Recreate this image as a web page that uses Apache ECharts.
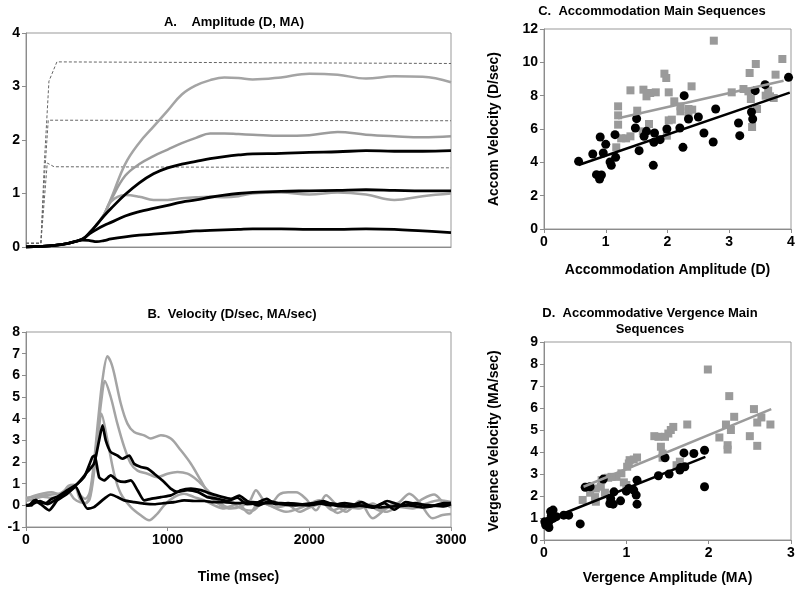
<!DOCTYPE html>
<html><head><meta charset="utf-8">
<script src="https://cdn.jsdelivr.net/npm/echarts/dist/echarts.min.js"></script>
<style>html,body{margin:0;padding:0;background:#fff}#c{width:800px;height:592px}</style>
</head><body><div id="c"></div>
<script>
// ---------- Panel A: amplitude (D, MA) ----------
const timeA = [0,100,200,300,400,450,500,550,600,700,800,900,1000,1100,1200,1300,1400,1500,1600,1800,2000,2200,2400,2600,2800,3000];
const accA1 = [0,0.01,0.03,0.07,0.15,0.27,0.42,0.6,0.9,1.55,1.95,2.25,2.55,2.85,3.02,3.12,3.17,3.16,3.13,3.17,3.24,3.22,3.15,3.19,3.18,3.08];
const accA2 = [0,0.01,0.03,0.07,0.15,0.27,0.42,0.6,0.88,1.33,1.55,1.7,1.82,1.94,2.04,2.12,2.12,2.11,2.1,2.08,2.09,2.15,2.1,2.07,2.05,2.07];
const accA3 = [0,0.01,0.03,0.07,0.15,0.27,0.42,0.6,0.85,0.97,0.94,0.88,0.88,0.91,0.93,0.94,0.93,0.95,1.0,1.02,0.98,1.02,0.98,0.88,0.95,1.0];
const vergA1 = [0,0.01,0.03,0.07,0.15,0.27,0.42,0.58,0.72,0.98,1.2,1.37,1.48,1.55,1.6,1.65,1.69,1.72,1.74,1.75,1.77,1.78,1.8,1.79,1.79,1.8];
const vergA2 = [0,0.01,0.03,0.07,0.15,0.25,0.33,0.4,0.46,0.58,0.66,0.72,0.78,0.84,0.88,0.93,0.97,1.0,1.02,1.04,1.05,1.06,1.07,1.06,1.05,1.05];
const vergA3 = [0,0.01,0.03,0.07,0.13,0.12,0.1,0.12,0.15,0.19,0.22,0.24,0.26,0.28,0.3,0.31,0.32,0.33,0.34,0.34,0.33,0.33,0.34,0.33,0.3,0.27];
const stimA1 = [[0,0.07],[105,0.07],[130,1.6],[162,3.1],[218,3.46],[3000,3.43]];
const stimA2 = [[0,0.07],[105,0.07],[135,1.5],[157,2.37],[3000,2.36]];
const stimA3 = [[0,0.07],[105,0.07],[150,1.57],[198,1.5],[3000,1.48]];

// ---------- Panel B: velocity ----------
const velAcc1 = [[0,0.35],[60,0.38],[120,0.45],[180,0.5],[240,0.55],[300,0.8],[340,0.9],[380,0.5],[420,0.3],[450,0.6],[480,2.0],[510,4.0],[540,5.8],[575,6.88],[600,6.6],[622,6.1],[669,4.7],[716,3.77],[763,3.38],[834,3.23],[881,3.08],[952,3.23],[1022,3.08],[1093,2.54],[1164,1.92],[1234,1.15],[1305,0.38],[1376,0.0],[1446,-0.15],[1520,-0.05],[1580,0.2],[1623,0.7],[1670,0.3],[1717,0.0],[1788,0.5],[1850,0.6],[1906,0.6],[1976,0.3],[2047,-0.23],[2118,0.46],[2188,0.05],[2259,-0.3],[2353,0.2],[2447,-0.6],[2541,-0.15],[2636,0.15],[2706,0.54],[2777,0.15],[2871,-0.6],[2940,-0.45],[3000,-0.4]];
const velAcc2 = [[0,0.3],[60,0.45],[120,0.55],[180,0.6],[240,0.5],[300,0.9],[340,0.95],[380,0.3],[420,0.1],[450,0.4],[480,1.8],[510,3.6],[535,5.0],[556,5.74],[598,5.0],[645,3.77],[693,2.7],[740,1.92],[787,1.6],[857,1.46],[928,1.3],[999,1.46],[1069,1.54],[1140,1.46],[1211,1.15],[1281,0.7],[1352,0.23],[1423,-0.08],[1493,0.08],[1576,-0.38],[1647,0.15],[1717,0.0],[1835,-0.3],[1953,-0.08],[2071,0.23],[2165,-0.23],[2235,-0.08],[2353,-0.15],[2447,0.08],[2541,-0.3],[2636,-0.08],[2730,-0.15],[2824,0.08],[2918,0.23],[3000,0.15]];
const velAcc3 = [[0,0.2],[60,0.3],[120,0.4],[180,0.35],[240,0.4],[300,0.6],[340,0.3],[380,0.15],[420,0.1],[450,0.3],[480,1.5],[510,3.2],[532,4.23],[575,3.0],[622,1.46],[669,0.54],[740,-0.08],[810,-0.46],[869,-0.69],[928,-0.38],[975,0.0],[1046,0.38],[1116,0.54],[1187,0.38],[1258,0.23],[1328,0.0],[1399,-0.15],[1470,0.0],[1540,-0.2],[1600,-0.25],[1680,0.2],[1760,-0.1],[1850,0.0],[1930,-0.3],[2000,-0.1],[2100,0.1],[2200,-0.35],[2300,0.0],[2400,0.05],[2500,-0.25],[2600,0.1],[2700,-0.1],[2800,0.3],[2880,0.5],[2950,0.1],[3000,-0.1]];
const velVerg1 = [[0,0],[40,0],[70,0.25],[100,0.1],[140,0.1],[180,0.3],[221,0.4],[292,0.7],[363,1.0],[433,1.54],[480,1.92],[516,3.0],[540,3.69],[563,3.0],[598,2.46],[645,2.3],[680,2.15],[728,2.3],[763,1.92],[810,1.77],[857,1.7],[905,1.46],[975,1.08],[1022,0.77],[1069,0.62],[1140,0.7],[1211,0.62],[1281,0.38],[1352,0.3],[1423,0.2],[1493,0.35],[1560,0.05],[1620,0.1],[1700,0.3],[1760,0.05],[1850,0.1],[1950,0.05],[2050,0.1],[2150,0.0],[2250,0.1],[2350,0.0],[2450,-0.1],[2550,0.2],[2650,0.0],[2750,0.1],[2850,-0.05],[2950,0.1],[3000,0.1]];
const velVerg2 = [[0,0],[60,0.1],[100,0.2],[150,0.05],[221,0.3],[292,0.6],[339,0.85],[410,1.3],[469,2.23],[485,2.3],[516,1.3],[551,1.15],[598,1.38],[645,1.15],[693,1.08],[740,1.15],[787,0.7],[834,0.23],[881,0.3],[952,0.38],[1022,0.46],[1093,0.7],[1164,0.77],[1234,0.7],[1305,0.54],[1376,0.4],[1446,0.3],[1505,0.45],[1560,0.2],[1640,0.0],[1720,0.2],[1800,0.05],[1900,0.0],[2000,0.05],[2100,0.2],[2180,0.0],[2280,-0.05],[2370,0.15],[2450,-0.1],[2530,0.1],[2600,-0.2],[2680,0.15],[2760,0.05],[2850,0.0],[2950,-0.05],[3000,0.05]];
const velVerg3 = [[0,0],[21,0],[57,0.23],[104,0.05],[163,-0.23],[221,0.23],[292,0.54],[351,0.85],[386,0.38],[433,-0.15],[480,-0.08],[551,0.3],[598,0.5],[645,0.38],[693,0.23],[763,0.15],[834,0.08],[905,0.05],[975,0.1],[1046,0.15],[1116,0.23],[1187,0.2],[1258,0.2],[1328,0.15],[1399,0.15],[1493,0.1],[1600,0.15],[1700,0.1],[1800,0.1],[1900,0.05],[2000,0.0],[2100,0.1],[2200,0.05],[2300,-0.05],[2400,0.0],[2500,-0.1],[2600,-0.05],[2700,0.0],[2800,-0.1],[2900,0.0],[3000,0.1]];

// ---------- Panel C: accommodation main sequence ----------
const accSqC = [[2.75,11.3],[3.86,10.2],[3.43,9.9],[3.33,9.36],[1.95,9.32],[1.98,9.06],[3.75,9.26],[2.39,8.56],[1.4,8.32],[1.61,8.36],[2.02,8.2],[1.72,8.16],[1.81,8.2],[3.04,8.2],[1.66,7.96],[3.23,8.4],[3.31,8.26],[3.63,8.3],[3.66,7.96],[3.72,7.86],[3.59,8.0],[3.35,7.8],[1.2,7.36],[2.11,7.66],[2.21,7.36],[2.34,7.2],[2.21,7.06],[2.4,7.16],[1.51,7.1],[1.2,6.82],[2.34,6.76],[3.45,7.2],[3.37,6.12],[1.7,6.3],[2.02,6.52],[2.07,6.56],[1.6,5.86],[1.2,6.26],[1.99,5.6],[1.25,5.44],[1.33,5.44],[1.4,5.56],[1.17,4.9]];
const accCirC = [[0.56,4.06],[0.79,4.5],[0.91,5.52],[0.96,4.56],[1.0,5.08],[0.85,3.26],[0.93,3.24],[0.9,3.0],[1.07,4.02],[1.09,3.82],[1.15,5.66],[1.16,4.3],[1.5,6.62],[1.48,6.06],[1.54,4.7],[1.62,5.56],[1.66,5.86],[1.79,5.76],[1.78,5.2],[1.88,5.36],[1.77,3.82],[1.99,6.0],[2.2,6.06],[2.27,8.0],[2.25,4.9],[2.34,6.6],[2.5,6.72],[2.59,5.76],[2.78,7.2],[2.74,5.22],[3.15,6.36],[3.17,5.6],[3.36,7.02],[3.38,6.6],[3.42,8.3],[3.58,8.66],[3.96,9.1]];
const fitSqC = [[1.2,6.64],[3.88,8.9]];
const fitCirC = [[0.56,3.84],[3.98,8.18]];

// ---------- Panel D: vergence main sequence ----------
const vergSqD = [[1.99,7.75],[2.25,6.54],[2.55,5.95],[2.31,5.6],[2.64,5.57],[2.75,5.25],[2.59,5.34],[2.21,5.25],[2.27,5.0],[2.5,4.72],[2.59,4.28],[2.23,4.31],[2.23,4.11],[2.13,4.66],[1.74,5.25],[1.57,5.14],[1.54,5.0],[1.51,4.84],[1.47,4.69],[1.39,4.69],[1.34,4.72],[1.42,4.24],[1.44,3.93],[1.44,3.74],[1.61,3.4],[1.65,3.56],[1.13,3.75],[1.09,3.66],[1.04,3.63],[1.03,3.48],[1.01,3.33],[0.94,3.03],[0.88,2.87],[0.82,2.87],[0.78,2.83],[0.97,2.62],[1.0,2.5],[0.7,2.72],[0.69,2.42],[0.63,2.34],[0.56,2.15],[0.74,2.15],[0.53,2.42],[0.63,1.74],[0.47,1.82],[0.62,1.95]];
const vergCirD = [[1.95,4.08],[1.82,3.93],[1.7,3.96],[1.66,3.3],[1.71,3.33],[1.65,3.18],[1.95,2.42],[1.52,3.0],[1.39,2.92],[1.47,3.74],[1.13,2.72],[1.12,2.04],[1.13,1.63],[1.09,2.27],[1.03,2.34],[1.0,2.22],[0.93,1.78],[0.85,2.19],[0.81,1.89],[0.84,1.63],[0.8,1.66],[0.72,2.77],[0.5,2.4],[0.56,2.42],[0.44,0.73],[0.3,1.13],[0.24,1.13],[0.15,1.06],[0.11,1.36],[0.09,1.13],[0.07,0.91],[0.05,0.76],[0.02,0.68],[0.06,0.57],[0.01,0.83],[0.11,0.98],[0.08,1.29]];
const fitSqD = [[0.48,2.42],[2.76,5.95]];
const fitCirD = [[0.1,1.0],[1.96,3.78]];

// ---------- build ----------
const FONT = 'Liberation Sans, Arial, sans-serif';
const GRAY = '#a4a4a4', SQ = '#9a9a9a', AX = '#8c8c8c';
const zip = (xs, ys) => xs.map((x, i) => [x, ys[i]]);
const lbl = {fontFamily: FONT, fontWeight: 'bold', fontSize: 14, color: '#000'};

function axis(gi, min, max, interval, o) {
  o = o || {};
  return Object.assign({
    type: 'value', gridIndex: gi, min, max, interval,
    axisLine: {show: true, onZero: false, lineStyle: {color: AX, width: 1}},
    axisTick: {show: true, inside: false, length: 4, lineStyle: {color: AX}},
    axisLabel: Object.assign({margin: 6, showMinLabel: true, showMaxLabel: true, formatter: v => String(v)}, lbl),
    splitLine: {show: false},
    nameLocation: 'middle',
    nameTextStyle: lbl
  }, o);
}
const gridBase = {show: true, borderColor: '#999', borderWidth: 1, containLabel: false, outerBoundsMode: 'none'};

function line(data, xi, color, width, extra) {
  return Object.assign({type: 'line', xAxisIndex: xi, yAxisIndex: xi, data, showSymbol: false, symbol: 'none',
    lineStyle: {color, width}, silent: true, z: 3}, extra || {});
}
function scat(data, xi, symbol, color, size) {
  return {type: 'scatter', xAxisIndex: xi, yAxisIndex: xi, data, symbol, symbolSize: size,
    itemStyle: {color, opacity: 1}, silent: true, z: 4};
}

const series = [
  line(stimA1, 0, '#666', 1, {lineStyle: {color: '#666', width: 1, type: [3, 2]}}),
  line(stimA2, 0, '#666', 1, {lineStyle: {color: '#666', width: 1, type: [3, 2]}}),
  line(stimA3, 0, '#666', 1, {lineStyle: {color: '#666', width: 1, type: [3, 2]}}),
  line(zip(timeA, accA1), 0, GRAY, 2.5, {smooth: 0.4}),
  line(zip(timeA, accA2), 0, '#9c9c9c', 2.5, {smooth: 0.4}),
  line(zip(timeA, accA3), 0, GRAY, 2.5, {smooth: 0.4}),
  line(zip(timeA, vergA1), 0, '#000', 2.8, {smooth: 0.4, z: 5}),
  line(zip(timeA, vergA2), 0, '#000', 2.8, {smooth: 0.4, z: 5}),
  line(zip(timeA, vergA3), 0, '#000', 2.8, {smooth: 0.4, z: 5}),
  line(velAcc1, 1, GRAY, 2.5, {smooth: 0.3}),
  line(velAcc2, 1, GRAY, 2.5, {smooth: 0.3}),
  line(velAcc3, 1, GRAY, 2.5, {smooth: 0.3}),
  line(velVerg1, 1, '#000', 2.7, {smooth: 0.2, z: 5}),
  line(velVerg2, 1, '#000', 2.7, {smooth: 0.2, z: 5}),
  line(velVerg3, 1, '#000', 2.7, {smooth: 0.2, z: 5}),
  scat(accSqC, 2, 'rect', SQ, 8),
  scat(accCirC, 2, 'circle', '#000', 9),
  line(fitSqC, 2, SQ, 2.5, {z: 6}),
  line(fitCirC, 2, '#000', 2.5, {z: 6}),
  scat(vergSqD, 3, 'rect', SQ, 8),
  scat(vergCirD, 3, 'circle', '#000', 9),
  line(fitSqD, 3, SQ, 2.5, {z: 6}),
  line(fitCirD, 3, '#000', 2.5, {z: 6})
];

const titleStyle = {fontFamily: FONT, fontWeight: 'bold', fontSize: 13, fill: '#000', textAlign: 'center', textVerticalAlign: 'middle'};
const txt = (x, y, s) => ({type: 'text', x, y, style: Object.assign({text: s}, titleStyle), silent: true});

const option = {
  animation: false,
  backgroundColor: '#fff',
  grid: [
    Object.assign({left: 26, top: 33, width: 425, height: 214}, gridBase),
    Object.assign({left: 26, top: 332, width: 425, height: 195}, gridBase),
    Object.assign({left: 544, top: 29, width: 247, height: 200}, gridBase),
    Object.assign({left: 544, top: 342, width: 247, height: 198}, gridBase)
  ],
  xAxis: [
    axis(0, 0, 3000, 1000, {axisLabel: {show: false}, axisTick: {show: false}}),
    axis(1, 0, 3000, 1000, {name: 'Time (msec)', nameGap: 43}),
    axis(2, 0, 4, 1, {name: 'Accommodation Amplitude (D)', nameGap: 34}),
    axis(3, 0, 3, 1, {name: 'Vergence Amplitude (MA)', nameGap: 31})
  ],
  yAxis: [
    axis(0, 0, 4, 1),
    axis(1, -1, 8, 1),
    axis(2, 0, 12, 2, {name: 'Accom Velocity (D/sec)', nameGap: 43}),
    axis(3, 0, 9, 1, {name: 'Vergence Velocity (MA/sec)', nameGap: 43})
  ],
  graphic: [
    txt(234, 22, 'A.    Amplitude (D, MA)'),
    txt(232, 314, 'B.  Velocity (D/sec, MA/sec)'),
    txt(652, 11, 'C.  Accommodation Main Sequences'),
    txt(650, 313, 'D.  Accommodative Vergence Main'),
    txt(650, 329, 'Sequences')
  ],
  series
};
const chart = echarts.init(document.getElementById('c'), null, {renderer: 'canvas'});
chart.setOption(option);
</script></body></html>
